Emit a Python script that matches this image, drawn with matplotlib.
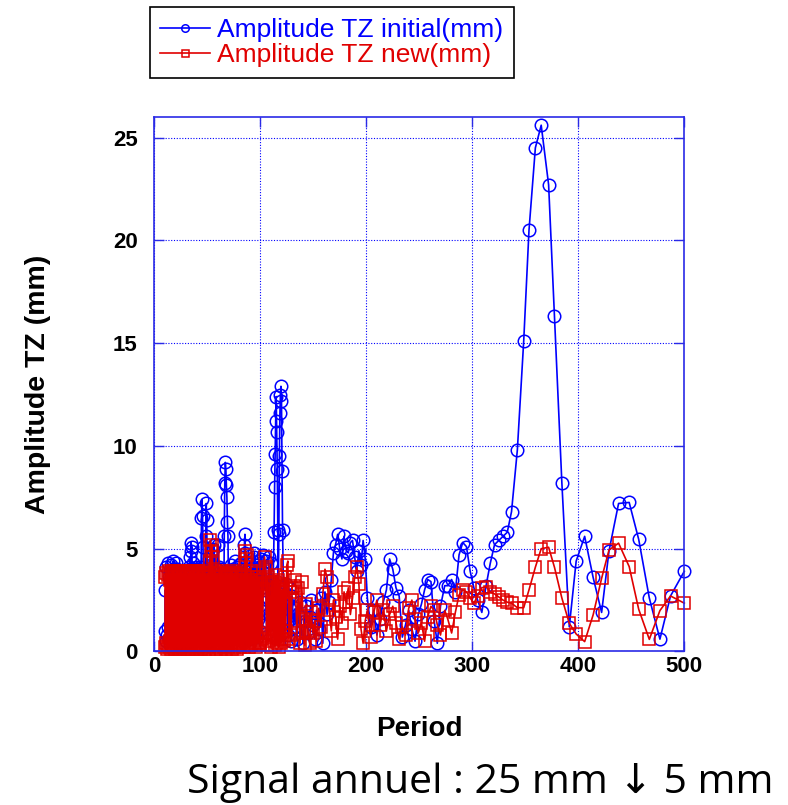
import matplotlib
matplotlib.use("Agg")
import matplotlib.pyplot as plt

# periods (shared grid for both spectra)
period = [
    # dense part 10..59.5
    10, 10.5, 11, 11.5, 12, 12.5, 13, 13.5, 14, 14.5,
    15, 15.5, 16, 16.5, 17, 17.5, 18, 18.5, 19, 19.5,
    20, 20.5, 21, 21.5, 22, 22.5, 23, 23.5, 24, 24.5,
    25, 25.5, 26, 26.5, 27, 27.5, 28, 28.5, 29, 29.5,
    30, 30.5, 31, 31.5, 32, 32.5, 33, 33.5, 34, 34.5,
    35, 35.5, 36, 36.5, 37, 37.5, 38, 38.5, 39, 39.5,
    40, 40.5, 41, 41.5, 42, 42.5, 43, 43.5, 44, 44.5,
    45, 45.5, 46, 46.5, 47, 47.5, 48, 48.5, 49, 49.5,
    50, 50.5, 51, 51.5, 52, 52.5, 53, 53.5, 54, 54.5,
    55, 55.5, 56, 56.5, 57, 57.5, 58, 58.5, 59, 59.5,
    # 60..99.5
    60, 60.5, 61, 61.5, 62, 62.5, 63, 63.5, 64, 64.5,
    65, 65.5, 66, 66.5, 67, 67.5, 68, 68.5, 69, 69.5,
    70, 70.5, 71, 71.5, 72, 72.5, 73, 73.5, 74, 74.5,
    75, 75.5, 76, 76.5, 77, 77.5, 78, 78.5, 79, 79.5,
    80, 80.5, 81, 81.5, 82, 82.5, 83, 83.5, 84, 84.5,
    85, 85.5, 86, 86.5, 87, 87.5, 88, 88.5, 89, 89.5,
    90, 90.5, 91, 91.5, 92, 92.5, 93, 93.5, 94, 94.5,
    95, 95.5, 96, 96.5, 97, 97.5, 98, 98.5, 99, 99.5,
    # 100..150
    100, 101, 102, 103, 104, 105, 106, 107, 108, 109, 110, 111, 112, 113,
    113.5, 114, 114.5, 115, 115.5, 116, 116.5, 117, 117.5, 118, 118.5, 119, 119.5, 120, 120.5, 121,
    122, 123, 124, 125, 126, 127, 128, 129, 130,
    131.5, 133, 134.5, 136, 137.5, 139, 140.5, 142, 143.5, 145, 146.5, 148, 149.5,
    # 150..270
    151.5, 153, 155, 157, 159, 161, 163, 165, 167, 169,
    171, 173, 175, 177, 179, 181, 183, 185, 187, 189,
    191, 193, 195, 197, 199, 201, 204, 207, 210, 213,
    216, 219, 222, 225, 228, 231, 234, 237, 240, 243,
    246, 249, 252, 255, 258, 261, 264, 267, 270,
    # 270..500
    274, 277, 280.5, 284, 287.5, 291, 294.5, 298, 301.5, 305,
    309, 313, 317, 321, 325, 329, 333, 337, 342.5, 348.5,
    353.5, 359.5, 365, 372, 377.5, 384.5, 391.5, 398, 406, 414,
    422, 429, 438, 448, 457, 467, 477, 487, 500,
]

amp_initial = [
    # 10..59.5
    1.0, 3.0, 0.5, 4.1, 0.8, 4.3, 1.2, 3.6, 0.6, 3.9,
    0.3, 4.2, 1.0, 3.8, 1.5, 4.4, 0.7, 4.0, 0.8, 3.6,
    2.1, 4.3, 0.9, 4.0, 0.4, 3.5, 1.3, 3.9, 0.4, 3.2,
    1.0, 2.8, 0.2, 3.5, 1.6, 3.7, 0.5, 3.0, 1.8, 3.4,
    0.6, 3.7, 1.1, 2.9, 2.2, 4.1, 0.5, 4.6, 2.0, 5.3,
    4.9, 5.1, 2.5, 4.3, 1.1, 3.4, 0.7, 2.9, 1.4, 4.1,
    0.9, 3.6, 1.2, 4.0, 0.6, 3.3, 1.5, 4.1, 2.8, 6.5,
    7.4, 6.6, 5.1, 2.4, 0.8, 3.7, 1.2, 5.6, 7.2, 6.4,
    3.8, 1.0, 3.2, 0.5, 4.5, 2.0, 3.6, 1.1, 4.4, 2.3,
    5.0, 3.3, 1.4, 5.2, 2.3, 4.1, 0.8, 3.6, 1.9, 4.0,
    # 60..99.5
    5.2, 2.3, 4.1, 0.8, 3.6, 1.2, 4.0, 0.6, 3.6, 1.9,
    3.3, 1.1, 5.6, 8.2, 9.2, 8.9, 8.1, 7.5, 6.3, 5.6,
    3.0, 1.2, 3.9, 0.6, 4.2, 1.5, 3.8, 0.8, 4.0, 2.5,
    3.8, 1.0, 4.4, 2.0, 3.5, 0.7, 4.1, 1.6, 3.0, 0.9,
    4.2, 1.3, 3.6, 0.8, 4.3, 2.0, 3.7, 1.1, 4.0, 3.0,
    5.2, 5.7, 4.8, 2.2, 3.4, 0.9, 4.0, 1.4, 2.7, 0.6,
    3.9, 1.5, 3.3, 0.8, 3.6, 1.2, 4.1, 2.0, 4.6, 4.8,
    3.1, 1.3, 4.2, 0.7, 3.5, 1.6, 4.4, 2.2, 3.8, 1.0,
    # 100..150
    2.0, 4.5, 1.3, 4.7, 3.0, 4.4, 0.9, 2.6, 4.6, 1.8, 4.3, 2.1, 3.0, 5.8,
    8.0, 9.6, 11.2, 12.4, 10.7, 8.9, 5.9, 3.2, 5.7, 9.5, 11.6, 12.5, 12.9, 12.2, 8.8, 5.9,
    2.5, 1.0, 3.3, 2.4, 0.8, 3.1, 1.6, 0.5, 2.7,
    1.2, 2.1, 0.6, 1.8, 2.4, 1.0, 0.4, 1.5, 2.2, 0.9, 1.7, 2.5, 1.3,
    # 150..270
    0.6, 2.0, 1.1, 2.6, 0.4, 2.9, 1.8, 2.4, 3.5, 4.8,
    5.2, 5.7, 5.0, 4.5, 5.6, 4.9, 4.8, 5.3, 5.4, 4.6,
    3.9, 4.9, 4.2, 5.4, 4.5, 2.6, 1.2, 2.0, 0.8, 1.6,
    2.4, 3.0, 4.5, 4.0, 3.1, 2.7, 0.7, 1.3, 2.0, 1.1,
    0.5, 1.8, 2.3, 3.0, 3.5, 3.4, 1.5, 0.4, 2.2,
    # 270..500
    3.2, 3.2, 3.5, 2.9, 4.7, 5.3, 5.1, 3.9, 3.1, 2.5,
    1.9, 3.2, 4.3, 5.2, 5.4, 5.6, 5.8, 6.8, 9.8, 15.1,
    20.5, 24.5, 25.6, 22.7, 16.3, 8.2, 1.2, 4.4, 5.6, 3.6,
    1.9, 4.9, 7.2, 7.25, 5.45, 2.6, 0.6, 2.7, 3.9,
]

amp_new = [
    # 10..59.5
    0.2, 3.6, 0.4, 3.8, 0.1, 3.7, 0.3, 3.9, 0.2, 3.5,
    0.5, 3.8, 0.1, 3.6, 0.3, 3.9, 0.2, 3.7, 0.4, 3.8,
    0.1, 3.5, 0.3, 3.9, 0.2, 3.6, 0.5, 3.8, 0.1, 3.7,
    0.3, 3.9, 0.2, 3.4, 0.4, 3.8, 0.1, 3.6, 0.3, 3.9,
    0.2, 3.7, 0.5, 3.5, 0.1, 3.8, 0.3, 3.9, 0.2, 3.6,
    0.4, 3.8, 0.1, 3.7, 0.3, 3.9, 0.2, 3.5, 0.5, 3.8,
    0.1, 3.6, 0.3, 3.9, 0.2, 3.7, 0.4, 3.8, 0.1, 3.5,
    0.3, 3.9, 0.2, 3.6, 0.5, 3.8, 0.1, 3.7, 0.3, 3.4,
    0.2, 3.8, 0.4, 3.6, 0.1, 4.4, 5.4, 4.9, 0.3, 5.2,
    4.6, 0.4, 3.7, 0.2, 3.9, 0.3, 3.6, 0.1, 3.8, 0.4,
    # 60..99.5
    0.3, 3.5, 0.2, 3.8, 0.4, 3.6, 0.1, 3.9, 0.3, 3.4,
    0.5, 3.7, 0.2, 3.6, 0.4, 3.8, 0.1, 3.3, 0.6, 3.7,
    0.2, 3.5, 0.4, 3.8, 0.3, 3.6, 0.1, 3.9, 0.5, 3.4,
    0.2, 3.7, 0.6, 3.5, 0.3, 3.8, 0.1, 3.6, 0.4, 3.2,
    0.3, 3.5, 0.2, 3.8, 0.4, 3.6, 0.7, 3.4, 0.2, 3.7,
    0.5, 4.3, 4.9, 4.5, 0.3, 4.7, 3.6, 0.4, 3.5, 0.2,
    3.4, 0.6, 3.9, 0.3, 3.2, 0.8, 3.6, 0.4, 3.1, 0.5,
    3.5, 0.2, 3.3, 0.7, 3.8, 0.4, 3.0, 0.9, 3.6, 0.3,
    # 100..150
    0.4, 3.5, 0.6, 3.9, 4.6, 4.1, 0.3, 3.6, 0.5, 3.3, 0.2, 3.4, 0.7, 3.0,
    0.3, 3.4, 0.8, 3.7, 0.4, 3.1, 0.6, 3.5, 0.2, 3.2, 0.9, 3.3, 0.4, 2.9, 0.6, 3.0,
    0.5, 3.6, 1.0, 4.2, 4.4, 0.6, 2.9, 0.8, 3.1,
    3.2, 3.5, 0.9, 3.1, 0.4, 3.4, 1.6, 0.3, 2.3, 1.0, 0.4, 1.9, 0.9,
    # 150..270
    1.5, 0.5, 2.1, 1.2, 2.8, 4.0, 3.6, 2.0, 1.0, 2.5,
    1.7, 0.6, 2.2, 1.4, 2.9, 2.4, 3.1, 1.8, 2.6, 3.6,
    4.1, 3.3, 1.1, 0.4, 1.5, 2.0, 0.7, 1.9, 2.5, 1.3,
    2.0, 1.0, 1.8, 2.2, 1.4, 0.6, 1.2, 0.8, 2.1, 2.5,
    1.6, 0.9, 1.4, 0.5, 1.7, 2.2, 2.0, 1.3, 0.8,
    # 270..500
    2.0, 1.55, 0.9, 1.9, 2.75, 3.0, 2.9, 2.6, 2.35, 2.7,
    3.1, 3.15, 2.9, 2.8, 2.65, 2.5, 2.4, 2.35, 2.13, 2.13,
    3.0, 4.1, 5.0, 5.07, 4.1, 2.6, 1.37, 0.85, 0.48, 1.78,
    3.56, 4.94, 5.27, 4.13, 2.05, 0.59, 1.99, 2.7, 2.35,
]

x_ticks = [0, 100, 200, 300, 400, 500]
y_ticks = [0, 5, 10, 15, 20, 25]

BLUE = "#0000ff"
RED = "#e00000"
FRAME = "#2a2ae6"

plt.rcParams["font.family"] = ["Liberation Sans", "DejaVu Sans"]

fig = plt.figure(figsize=(7.88, 8.05), dpi=100)
ax = fig.add_axes([0.1958, 0.1907, 0.6726, 0.664])

ax.plot(period, amp_initial, color=BLUE, lw=1.2, marker="o", ms=9,
        mfc="none", mew=1.1, clip_on=False, label="Amplitude TZ initial(mm)")
ax.plot(period, amp_new, color=RED, lw=1.2, marker="s", ms=8.4,
        mfc="none", mew=1.1, clip_on=False, label="Amplitude TZ new(mm)")

ax.set_xlim(0, 500)
ax.set_ylim(0, 26)
ax.set_xticks(x_ticks)
ax.set_yticks(y_ticks)

ax.grid(True, color=BLUE, linestyle=(0, (1, 1.5)), linewidth=0.8)
ax.set_axisbelow(True)
for sp in ax.spines.values():
    sp.set_color(FRAME)
    sp.set_linewidth(1.2)
ax.tick_params(direction="in", length=7, width=1, color=FRAME,
               top=True, right=True, labelsize=16)
ax.tick_params(axis="x", pad=3)
ax.tick_params(axis="y", pad=12)
for lab in ax.get_xticklabels() + ax.get_yticklabels():
    lab.set_fontweight("bold")

ax.set_xlabel("Period", fontsize=20, fontweight="bold")
ax.set_ylabel("Amplitude TZ (mm)", fontsize=20.5, fontweight="bold")
ax.xaxis.set_label_coords(0.5, -0.12)
ax.yaxis.set_label_coords(-0.195, 0.5)

leg = fig.legend(loc="upper left", bbox_to_anchor=(0.19, 0.991),
                 fontsize=19, labelcolor="linecolor", markerscale=0.6,
                 handlelength=1.9, handletextpad=0.25, labelspacing=0.05,
                 borderpad=0.4, borderaxespad=0, fancybox=False, framealpha=1)
leg.get_frame().set_edgecolor("black")
leg.get_frame().set_linewidth(1.2)

fig.text(0.609, 0.0149, "Signal annuel : 25 mm \u2193 5 mm", ha="center",
         va="baseline", fontsize=29.5, family=["Open Sans", "DejaVu Sans"])

fig.savefig("out.png", dpi=100)
